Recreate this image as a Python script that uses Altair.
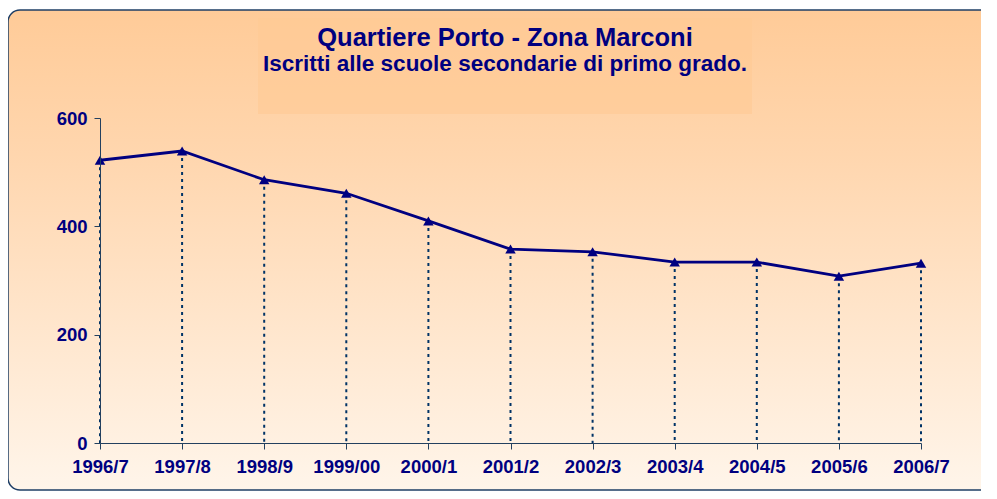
import altair as alt
import pandas as pd

years = ["1996/7", "1997/8", "1998/9", "1999/00", "2000/1", "2001/2",
         "2002/3", "2003/4", "2004/5", "2005/6", "2006/7"]
iscritti = [522, 539, 486, 461, 410, 358, 353, 334, 334, 308, 332]
title_lines = ["Quartiere Porto - Zona Marconi",
               "Iscritti alle scuole secondarie di primo grado."]

df = pd.DataFrame({"anno": years, "iscritti": iscritti})

NAVY = "#000080"
AXIS = "#23405F"
FONT = "Liberation Sans"

W, H = 821, 325

bg = alt.Chart(alt.Data(values=[{}])).mark_rect(
    cornerRadius=12,
    stroke="#1F3F66",
    strokeWidth=1.5,
    fill=alt.LinearGradient(
        gradient="linear",
        stops=[alt.GradientStop(color="#FFCB98", offset=0),
               alt.GradientStop(color="#FFD6AE", offset=0.3),
               alt.GradientStop(color="#FFF5EA", offset=1)],
        x1=0, x2=0, y1=0, y2=1),
).encode(
    x=alt.value(-92), x2=alt.value(960),
    y=alt.value(-108), y2=alt.value(372),
)

title_box = alt.Chart(alt.Data(values=[{}])).mark_rect(
    fill="#FFC995", opacity=0.6
).encode(
    x=alt.value(158), x2=alt.value(652),
    y=alt.value(-100), y2=alt.value(-4),
)

title_main = alt.Chart(alt.Data(values=[{"t": title_lines[0]}])).mark_text(
    font=FONT, fontSize=25.5, fontWeight="bold", color=NAVY,
    align="center", baseline="alphabetic"
).encode(text="t:N", x=alt.value(405), y=alt.value(-72))

title_sub = alt.Chart(alt.Data(values=[{"t": title_lines[1]}])).mark_text(
    font=FONT, fontSize=22.5, fontWeight="bold", color=NAVY,
    align="center", baseline="alphabetic"
).encode(text="t:N", x=alt.value(405), y=alt.value(-47))

xenc = alt.X("anno:N", sort=years, scale=alt.Scale(type="point", padding=0),
             axis=alt.Axis(title=None, labelAngle=0, labelFont=FONT,
                           labelFontSize=18.5, labelFontWeight="bold",
                           labelColor=NAVY, domainColor=AXIS, tickColor=AXIS,
                           tickSize=6, labelPadding=8, grid=False, zindex=1))
yenc = alt.Y("iscritti:Q", scale=alt.Scale(domain=[0, 600]),
             axis=alt.Axis(title=None, values=[0, 200, 400, 600],
                           labelFont=FONT, labelFontSize=18.5,
                           labelFontWeight="bold", labelColor=NAVY,
                           domainColor=AXIS, tickColor=AXIS, tickSize=6,
                           labelPadding=7, grid=False, zindex=1))

base = alt.Chart(df)

drops = base.mark_rule(color="#003366", strokeWidth=2,
                       strokeDash=[3, 4]).encode(
    x=xenc, y=yenc, y2=alt.datum(0))

line = base.mark_line(color=NAVY, strokeWidth=2.8).encode(x=xenc, y=yenc)

pts = base.mark_point(shape="triangle-up", filled=True, color=NAVY,
                      size=110, opacity=1).encode(x=xenc, y=yenc)

chart = alt.layer(bg, title_box, title_main, title_sub, drops, line, pts).properties(
    width=W, height=H,
    autosize=alt.AutoSizeParams(type="none"),
    padding={"left": 92, "top": 110, "right": 60, "bottom": 48},
).configure_view(stroke=None).configure(background="white")

chart.save("out.html", embed_options={"renderer": "svg", "actions": False})
